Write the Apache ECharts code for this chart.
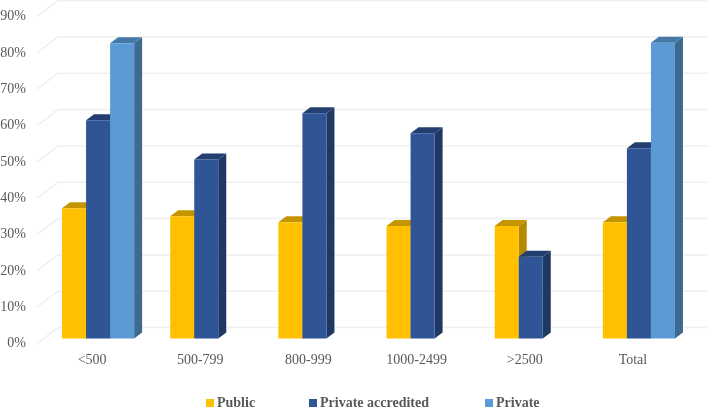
<!DOCTYPE html>
<html><head><meta charset="utf-8">
<style>html,body{margin:0;padding:0;background:#fff}#c{width:709px;height:407px}</style>
<script src="https://cdn.jsdelivr.net/npm/echarts@6/dist/echarts.min.js"></script>
</head><body><div id="c"></div>
<script>
const categories = ['<500','500-799','800-999','1000-2499','>2500','Total'];
const yTicks = [0,10,20,30,40,50,60,70,80,90];
const publicValues = [35.9,33.7,32,31,31,32];
const accreditedValues = [60.1,49.3,62,56.5,22.5,52.4];
const privateValues = [81.3,null,null,null,null,81.4];

const FONT = '"Liberation Serif","Times New Roman",serif';
const BAR_FRAC = 0.2222, BAR_DX = 7, BAR_DY = -5, DEPTH_X = 8, DEPTH_Y = 6;
const WALL_DX = 21, WALL_DY = -16;

function barSeries(name, values, idx, front, top, side) {
  return {
    name, type: 'custom', coordinateSystem: 'cartesian2d', silent: true, z: 5 + idx,
    encode: { x: 0, y: 1 },
    itemStyle: { color: front },
    data: values.map((v, i) => [i, v == null ? '-' : v]),
    renderItem(params, api) {
      const v = api.value(1);
      if (isNaN(v)) return null;
      const topPt = api.coord([api.value(0), v]);
      const basePt = api.coord([api.value(0), 0]);
      const w = api.size([1, 0])[0] * BAR_FRAC;
      const x0 = topPt[0] + BAR_DX + (idx - 1.5) * w;
      const x1 = x0 + w;
      const y0 = topPt[1] + BAR_DY, yb = basePt[1] + BAR_DY;
      const dx = DEPTH_X, dy = DEPTH_Y;
      return { type: 'group', children: [
        { type: 'polygon', shape: { points: [[x1,y0],[x1+dx,y0-dy],[x1+dx,yb-dy],[x1,yb]] }, style: { fill: side } },
        { type: 'polygon', shape: { points: [[x0,y0],[x0+dx,y0-dy],[x1+dx,y0-dy],[x1,y0]] }, style: { fill: top } },
        { type: 'rect', shape: { x: x0, y: y0, width: w, height: yb - y0 }, style: { fill: front } }
      ]};
    }
  };
}

const gridSeries = {
  type: 'custom', coordinateSystem: 'cartesian2d', silent: true, z: 1, clip: false,
  encode: { x: 0, y: 1 },
  data: yTicks.map(t => [0, t]),
  renderItem(params, api) {
    const p = api.coord([0, api.value(1)]);
    const cs = params.coordSys;
    return { type: 'polyline', shape: { points: [
      [cs.x, p[1]], [cs.x + WALL_DX, p[1] + WALL_DY], [cs.x + cs.width + WALL_DX, p[1] + WALL_DY]
    ]}, style: { stroke: '#efefef', lineWidth: 1.5, fill: null } };
  }
};

function legendAt(name, left) {
  return { show: true, data: [name], left, top: 396, padding: 0, icon: 'rect', itemWidth: 8, itemHeight: 8, itemGap: 3,
    textStyle: { fontFamily: FONT, fontSize: 14, fontWeight: 'bold', color: '#595959', padding: [0,0,0,-2] } };
}

const chart = echarts.init(document.getElementById('c'), null, { renderer: 'canvas' });
chart.setOption({
  animation: false,
  backgroundColor: '#fff',
  grid: { left: 37, right: 23, top: 16.6, bottom: 63.4, containLabel: false, outerBoundsMode: 'none' },
  legend: [legendAt('Public', 206), legendAt('Private accredited', 309), legendAt('Private', 485)],
  xAxis: { type: 'category', data: categories, boundaryGap: true,
    axisLine: { show: false }, axisTick: { show: false }, splitLine: { show: false },
    axisLabel: { interval: 0, margin: 10, padding: [0,0,0,2], fontFamily: FONT, fontSize: 14, color: '#595959' } },
  yAxis: { type: 'value', min: 0, max: 90, interval: 10,
    axisLine: { show: false }, axisTick: { show: false }, splitLine: { show: false },
    axisLabel: { margin: 11, formatter: '{value}%', fontFamily: FONT, fontSize: 14, color: '#595959' } },
  series: [
    gridSeries,
    barSeries('Public', publicValues, 0, '#FFC000', '#C59500', '#B58900'),
    barSeries('Private accredited', accreditedValues, 1, '#2F5597', '#233F70', '#1F3864'),
    barSeries('Private', privateValues, 2, '#5B9BD5', '#4478A6', '#3D6A8E')
  ]
});
</script></body></html>
